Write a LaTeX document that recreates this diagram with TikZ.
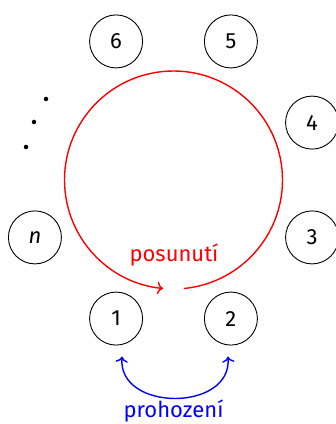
\documentclass[tikz,border=0pt]{standalone}
\usepackage{fontspec}
\setmainfont{Fira Sans}
\usetikzlibrary{calc,arrows.meta}
\begin{document}
\begin{tikzpicture}[x=1pt,y=1pt,>={To[scale=1.25]},
  num/.style={circle,draw,line width=0.9pt,minimum size=53pt,inner sep=0pt,font=\fontsize{22}{26}\selectfont},
  lbl/.style={font=\fontsize{22}{26}\selectfont,anchor=base},
  dotmark/.style={circle,fill,inner sep=0pt,minimum size=4.5pt}]
\useasboundingbox (0,0) rectangle (336,424);
\coordinate (c) at (173.5,244);
\node[num] (n6) at ($(c)+(112.5:150)$) {6};
\node[num] (n5) at ($(c)+(67.5:150)$) {5};
\node[num] (n4) at ($(c)+(22.5:150)$) {4};
\node[num] (n3) at ($(c)+(-22.5:150)$) {3};
\node[num] (n2) at ($(c)+(-67.5:150)$) {2};
\node[num] (n1) at ($(c)+(-112.5:150)$) {1};
\node[num] (nn) at ($(c)+(-157.5:150)$) {\itshape n};
\node[dotmark] (d1) at (46,325) {};
\node[dotmark] (d2) at (34,302) {};
\node[dotmark] (d3) at (26,277) {};
\draw[red,line width=1.4pt,->] ($(c)+(-84.5:109)$) arc[start angle=-84.5,end angle=264.5,radius=109];
\node[lbl,text=red] (pos) at (174,162) {posunutí};
\coordinate (a1) at ([xshift=6pt,yshift=-11pt]n1.south);
\coordinate (a2) at ([xshift=-3pt,yshift=-11pt]n2.south);
\draw[blue,line width=1.4pt,<->] (a1) to[out=-95,in=-85,looseness=1.35] (a2);
\node[lbl,text=blue] (pro) at (173.5,6) {prohození};
\end{tikzpicture}
\end{document}
